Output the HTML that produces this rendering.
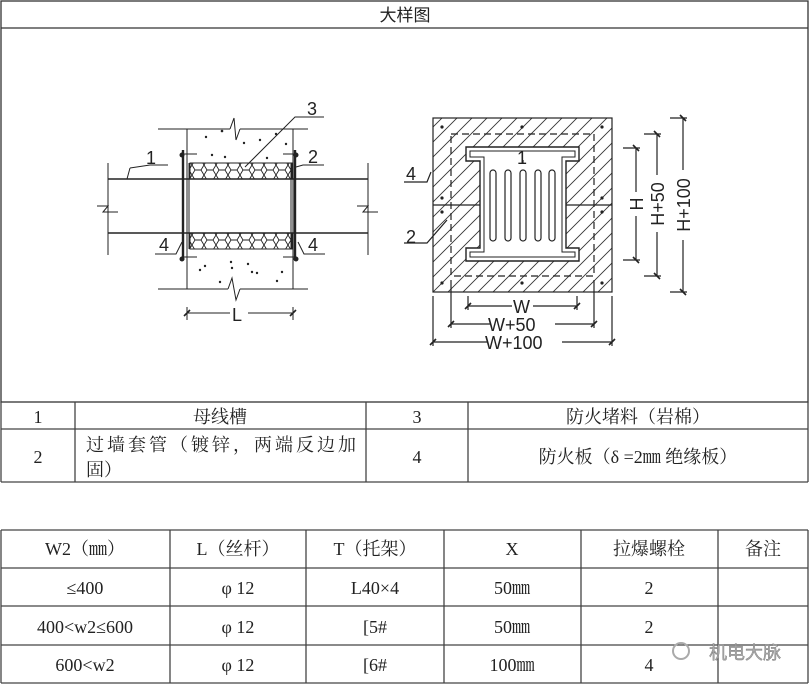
<!DOCTYPE html>
<html><head><meta charset="utf-8"><style>
body{margin:0;background:#fff}
svg{display:block;font-family:"Liberation Serif","Noto Serif CJK SC","Noto Sans CJK SC",serif}
.t{font-family:"Liberation Sans","Noto Sans CJK SC",sans-serif}
</style></head><body>
<svg width="809" height="685" viewBox="0 0 809 685" xmlns="http://www.w3.org/2000/svg">
<defs>
<clipPath id="sq"><rect x="433" y="118" width="179" height="174"/></clipPath>
<pattern id="hx" width="12" height="10" patternUnits="userSpaceOnUse">
<path d="M0 5 L3 0 L9 0 L12 5 L9 10 L3 10 Z" fill="none" stroke="#222" stroke-width="0.9"/>
</pattern>
</defs>
<g fill="none" stroke="#333" stroke-width="1.3">
<rect x="1" y="1" width="807" height="401"/>
<line x1="1" y1="28" x2="808" y2="28"/>
</g>
<text x="405" y="21" font-size="17" text-anchor="middle" class="t" fill="#222">大样图</text>

<g stroke="#222" fill="none" stroke-width="1">
<line x1="158" y1="129" x2="230" y2="129"/><line x1="240" y1="129" x2="308" y2="129"/>
<polyline points="230,129 234,118 236,140 240,129"/>
<line x1="158" y1="289" x2="228" y2="289"/><line x1="240" y1="289" x2="308" y2="289"/>
<polyline points="228,289 232,278 236,300 240,289"/>
<line x1="187" y1="129" x2="187" y2="289"/><line x1="293" y1="129" x2="293" y2="289"/>
<line x1="108" y1="179" x2="368" y2="179" stroke-width="1.6"/>
<line x1="108" y1="233" x2="368" y2="233" stroke-width="1.6"/>
<line x1="108" y1="163" x2="108" y2="255"/><line x1="368" y1="163" x2="368" y2="255"/>
<polyline points="97,206 108,206 103,212 118,212"/>
<polyline points="357,206 368,206 363,212 378,212"/>
<rect x="190" y="163" width="102" height="16" fill="url(#hx)"/>
<rect x="190" y="233" width="102" height="16" fill="url(#hx)"/>
<line x1="190" y1="163" x2="292" y2="163"/><line x1="190" y1="249" x2="292" y2="249"/>
<line x1="183" y1="150" x2="183" y2="260" stroke-width="2.4"/>
<line x1="295" y1="150" x2="295" y2="260" stroke-width="2.4"/>
<line x1="189" y1="163" x2="189" y2="249"/><line x1="291" y1="163" x2="291" y2="249"/>
<line x1="183" y1="154" x2="197" y2="154"/><line x1="283" y1="154" x2="295" y2="154"/>
<line x1="183" y1="257" x2="197" y2="257"/><line x1="283" y1="257" x2="295" y2="257"/>
<line x1="187" y1="307" x2="187" y2="320"/><line x1="293" y1="307" x2="293" y2="320"/>
<line x1="187" y1="313" x2="230" y2="313"/><line x1="248" y1="313" x2="293" y2="313"/>
<line x1="184" y1="316" x2="190" y2="310" stroke-width="1.6"/><line x1="290" y1="316" x2="296" y2="310" stroke-width="1.6"/>
<polyline points="130,168 150,165 168,165"/>
<line x1="130" y1="168" x2="127" y2="179"/>
<polyline points="245,167 295,117 324,117"/>
<polyline points="296,167 303,165 324,165"/>
<polyline points="155,254 176,254 182,242"/>
<polyline points="298,242 304,254 325,254"/>
</g>
<g fill="#222">
<circle cx="182" cy="155" r="2.5"/><circle cx="296" cy="155" r="2.5"/>
<circle cx="182" cy="259" r="2.5"/><circle cx="296" cy="259" r="2.5"/>
<circle cx="222" cy="131" r="1.3"/><circle cx="206" cy="137" r="1.2"/><circle cx="244" cy="143" r="1.2"/><circle cx="260" cy="140" r="1.2"/><circle cx="276" cy="134" r="1.2"/><circle cx="212" cy="155" r="1.2"/><circle cx="225" cy="157" r="1.2"/><circle cx="267" cy="158" r="1.2"/><circle cx="286" cy="144" r="1.2"/>
<circle cx="205" cy="266" r="1.2"/><circle cx="200" cy="270" r="1.2"/><circle cx="231" cy="262" r="1.2"/><circle cx="232" cy="268" r="1.2"/><circle cx="252" cy="272" r="1.2"/><circle cx="257" cy="273" r="1.2"/><circle cx="282" cy="272" r="1.2"/><circle cx="277" cy="281" r="1.2"/><circle cx="220" cy="282" r="1.2"/><circle cx="248" cy="264" r="1.2"/>
</g>
<g font-size="18" class="t" fill="#222">
<text x="146" y="164">1</text><text x="307" y="115">3</text><text x="308" y="163">2</text>
<text x="159" y="251">4</text><text x="308" y="251">4</text>
<text x="232" y="321">L</text>
</g>

<g clip-path="url(#sq)" stroke="#333" stroke-width="0.9">
<line x1="380" y1="300" x2="580" y2="100"/><line x1="395" y1="300" x2="595" y2="100"/><line x1="410" y1="300" x2="610" y2="100"/><line x1="425" y1="300" x2="625" y2="100"/><line x1="440" y1="300" x2="640" y2="100"/><line x1="455" y1="300" x2="655" y2="100"/><line x1="470" y1="300" x2="670" y2="100"/><line x1="485" y1="300" x2="685" y2="100"/><line x1="500" y1="300" x2="700" y2="100"/><line x1="515" y1="300" x2="715" y2="100"/><line x1="530" y1="300" x2="730" y2="100"/><line x1="545" y1="300" x2="745" y2="100"/><line x1="560" y1="300" x2="760" y2="100"/><line x1="575" y1="300" x2="775" y2="100"/><line x1="590" y1="300" x2="790" y2="100"/><line x1="365" y1="300" x2="565" y2="100"/><line x1="350" y1="300" x2="550" y2="100"/><line x1="335" y1="300" x2="535" y2="100"/><line x1="320" y1="300" x2="520" y2="100"/><line x1="305" y1="300" x2="505" y2="100"/><line x1="290" y1="300" x2="490" y2="100"/><line x1="275" y1="300" x2="475" y2="100"/><line x1="260" y1="300" x2="460" y2="100"/>
</g>
<g stroke="#222" fill="none" stroke-width="1.2">
<rect x="433" y="118" width="179" height="174"/>
<rect x="451" y="134" width="143" height="142" stroke-dasharray="7,4"/>
<line x1="433" y1="205" x2="612" y2="205"/>
<path d="M466 147 H579 V161 H566 V248 H579 V261 H466 V248 H480 V161 H466 Z" fill="#fff" stroke-width="1.4"/>
<path d="M470 151 H575 V157 H562 V252 H575 V257 H470 V252 H484 V157 H470 Z" stroke-width="1"/>
<rect x="490" y="170" width="6" height="71" rx="3"/><rect x="505" y="170" width="6" height="71" rx="3"/><rect x="520" y="170" width="6" height="71" rx="3"/><rect x="535" y="170" width="6" height="71" rx="3"/><rect x="549" y="170" width="6" height="71" rx="3"/>
<line x1="523" y1="160" x2="523" y2="164"/>
<line x1="468" y1="296" x2="468" y2="310"/><line x1="577" y1="296" x2="577" y2="310"/>
<line x1="468" y1="306" x2="512" y2="306"/><line x1="533" y1="306" x2="577" y2="306"/>
<line x1="451" y1="280" x2="451" y2="328"/><line x1="594" y1="280" x2="594" y2="328"/>
<line x1="451" y1="324" x2="490" y2="324"/><line x1="555" y1="324" x2="594" y2="324"/>
<line x1="433" y1="296" x2="433" y2="346"/><line x1="612" y1="296" x2="612" y2="346"/>
<line x1="433" y1="342" x2="487" y2="342"/><line x1="562" y1="342" x2="612" y2="342"/>
<line x1="623" y1="148" x2="640" y2="148"/><line x1="623" y1="260" x2="640" y2="260"/>
<line x1="636" y1="148" x2="636" y2="192"/><line x1="636" y1="216" x2="636" y2="260"/>
<line x1="644" y1="134" x2="661" y2="134"/><line x1="644" y1="276" x2="661" y2="276"/>
<line x1="657" y1="134" x2="657" y2="175"/><line x1="657" y1="232" x2="657" y2="276"/>
<line x1="670" y1="118" x2="687" y2="118"/><line x1="670" y1="292" x2="687" y2="292"/>
<line x1="683" y1="118" x2="683" y2="170"/><line x1="683" y1="240" x2="683" y2="292"/>
<polyline points="404,182 427,182 431,172"/>
<polyline points="404,243 427,243 447,220"/>
</g>
<g stroke="#222" stroke-width="1.6">
<line x1="465" y1="309" x2="471" y2="303"/><line x1="574" y1="309" x2="580" y2="303"/>
<line x1="448" y1="327" x2="454" y2="321"/><line x1="591" y1="327" x2="597" y2="321"/>
<line x1="430" y1="345" x2="436" y2="339"/><line x1="609" y1="345" x2="615" y2="339"/>
<line x1="633" y1="145" x2="639" y2="151"/><line x1="633" y1="257" x2="639" y2="263"/>
<line x1="654" y1="131" x2="660" y2="137"/><line x1="654" y1="273" x2="660" y2="279"/>
<line x1="680" y1="115" x2="686" y2="121"/><line x1="680" y1="289" x2="686" y2="295"/>
</g>
<g fill="#222">
<circle cx="442" cy="127" r="1.6"/><circle cx="522" cy="127" r="1.6"/><circle cx="602" cy="127" r="1.6"/>
<circle cx="442" cy="198" r="1.6"/><circle cx="442" cy="212" r="1.6"/><circle cx="602" cy="198" r="1.6"/><circle cx="602" cy="212" r="1.6"/>
<circle cx="442" cy="283" r="1.6"/><circle cx="522" cy="283" r="1.6"/><circle cx="602" cy="283" r="1.6"/>
</g>
<g font-size="18" class="t" fill="#222">
<text x="517" y="164">1</text>
<text x="406" y="180">4</text><text x="406" y="243">2</text>
<text x="513" y="313">W</text><text x="488" y="331">W+50</text><text x="485" y="349">W+100</text>
<text transform="translate(643,204) rotate(-90)" text-anchor="middle">H</text>
<text transform="translate(664,204) rotate(-90)" text-anchor="middle">H+50</text>
<text transform="translate(690,205) rotate(-90)" text-anchor="middle">H+100</text>
</g>

<g stroke="#444" stroke-width="1.3" fill="none">
<line x1="1" y1="429" x2="808" y2="429"/>
<line x1="1" y1="482" x2="808" y2="482"/>
<line x1="1" y1="402" x2="1" y2="482"/><line x1="808" y1="402" x2="808" y2="482"/>
<line x1="75" y1="402" x2="75" y2="482"/><line x1="366" y1="402" x2="366" y2="482"/><line x1="468" y1="402" x2="468" y2="482"/>
</g>
<g font-size="18" fill="#222">
<text x="38" y="423" text-anchor="middle">1</text>
<text x="220" y="423" text-anchor="middle">母线槽</text>
<text x="417" y="423" text-anchor="middle">3</text>
<text x="638" y="423" text-anchor="middle">防火堵料（岩棉）</text>
<text x="38" y="463" text-anchor="middle">2</text>
<text x="86" y="451" textLength="270">过墙套管（镀锌，两端反边加</text>
<text x="86" y="476">固）</text>
<text x="417" y="463" text-anchor="middle">4</text>
<text x="638" y="463" text-anchor="middle">防火板（δ =2㎜ 绝缘板）</text>
</g>

<g stroke="#444" stroke-width="1.3" fill="none">
<line x1="1" y1="530" x2="808" y2="530"/>
<line x1="1" y1="568" x2="808" y2="568"/>
<line x1="1" y1="606" x2="808" y2="606"/>
<line x1="1" y1="645" x2="808" y2="645"/>
<line x1="1" y1="683" x2="808" y2="683"/>
<line x1="1" y1="530" x2="1" y2="683"/><line x1="808" y1="530" x2="808" y2="683"/>
<line x1="170" y1="530" x2="170" y2="683"/><line x1="306" y1="530" x2="306" y2="683"/><line x1="444" y1="530" x2="444" y2="683"/><line x1="581" y1="530" x2="581" y2="683"/><line x1="718" y1="530" x2="718" y2="683"/>
</g>
<g font-size="18" fill="#222" text-anchor="middle">
<text x="85" y="555">W2（㎜）</text><text x="238" y="555">L（丝杆）</text><text x="375" y="555">T（托架）</text><text x="512" y="555">X</text><text x="649" y="555">拉爆螺栓</text><text x="763" y="555">备注</text>
<text x="85" y="594">≤400</text><text x="238" y="594">φ 12</text><text x="375" y="594">L40×4</text><text x="512" y="594">50㎜</text><text x="649" y="594">2</text>
<text x="85" y="633">400&lt;w2≤600</text><text x="238" y="633">φ 12</text><text x="375" y="633">[5#</text><text x="512" y="633">50㎜</text><text x="649" y="633">2</text>
<text x="85" y="671">600&lt;w2</text><text x="238" y="671">φ 12</text><text x="375" y="671">[6#</text><text x="512" y="671">100㎜</text><text x="649" y="671">4</text>
</g>
<g class="t">
<circle cx="681" cy="651" r="8" fill="none" stroke="#aaa" stroke-width="2"/>
<text x="745" y="659" font-size="18" text-anchor="middle" fill="#aaa" stroke="#777" stroke-width="0.4">机电大脉</text>
</g>
</svg>
</body></html>
